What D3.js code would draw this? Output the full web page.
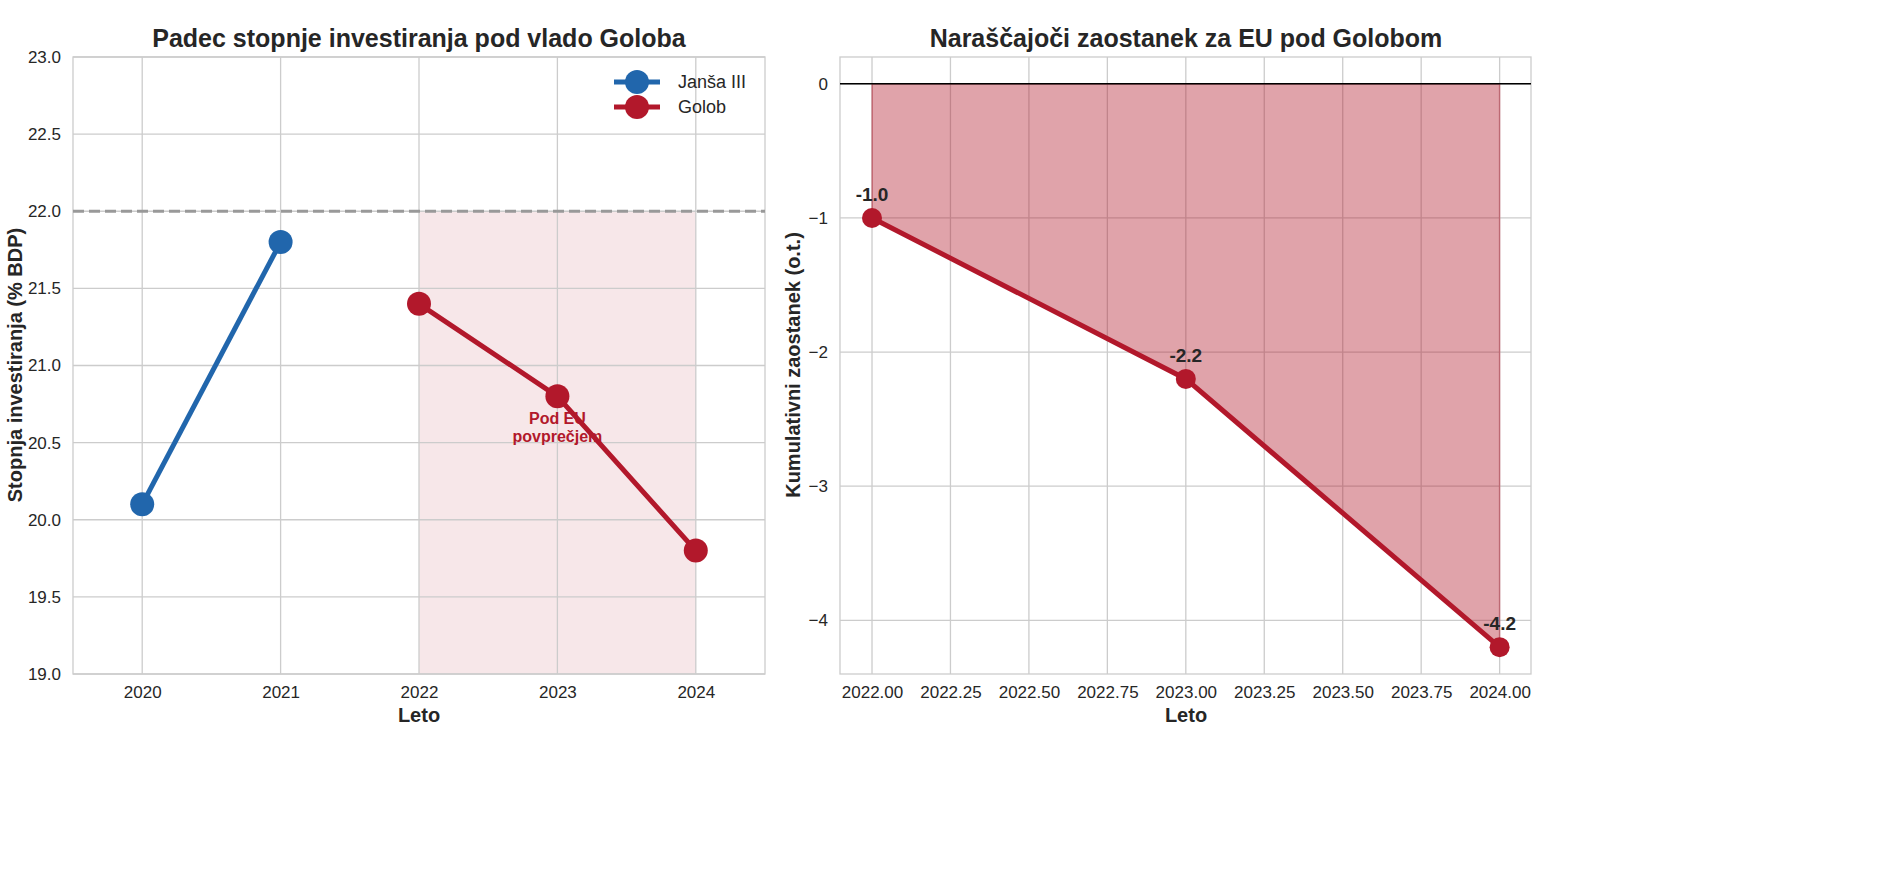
<!DOCTYPE html>
<html><head><meta charset="utf-8">
<script src="https://cdn.jsdelivr.net/npm/d3@7"></script>
<style>
body{margin:0;background:#fff;font-family:"Liberation Sans",Arial,sans-serif;}
.tick text{font-size:17px;fill:#262626;}
.tick line{stroke:#262626;}
</style></head><body>
<svg id="c" width="1891" height="887"></svg>
<script>
// data
var jansaYears = [2020, 2021], jansaVals = [20.1, 21.8];
var golobYears = [2022, 2023, 2024], golobVals = [21.4, 20.8, 19.8];
var euAverage = 22.0;
var gapYears = [2022, 2023, 2024], gapVals = [-1.0, -2.2, -4.2];
var leftYTicks = [19, 19.5, 20, 20.5, 21, 21.5, 22, 22.5, 23];
var leftXTicks = [2020, 2021, 2022, 2023, 2024];
var rightYTicks = [0, -1, -2, -3, -4];
var rightXTicks = [2022, 2022.25, 2022.5, 2022.75, 2023, 2023.25, 2023.5, 2023.75, 2024];

var blue = '#2166ac', red = '#b2182b';
var svg = d3.select('#c');

function frame(g, x, y, xt, yt, xfmt, yfmt){
	var w = x.range()[1]-x.range()[0], h = y.range()[0]-y.range()[1];
	g.append('g').selectAll('line').data(xt).join('line')
		.attr('x1', d => x(d)).attr('x2', d => x(d)).attr('y1', y.range()[1]).attr('y2', y.range()[0])
		.attr('stroke', '#cccccc').attr('stroke-width', 1.3);
	g.append('g').selectAll('line').data(yt).join('line')
		.attr('y1', d => y(d)).attr('y2', d => y(d)).attr('x1', x.range()[0]).attr('x2', x.range()[1])
		.attr('stroke', '#cccccc').attr('stroke-width', 1.3);
	var xa = g.append('g').attr('transform', 'translate(0,' + y.range()[0] + ')')
		.call(d3.axisBottom(x).tickValues(xt).tickFormat(xfmt).tickSize(0).tickPadding(12));
	var ya = g.append('g').attr('transform', 'translate(' + x.range()[0] + ',0)')
		.call(d3.axisLeft(y).tickValues(yt).tickFormat(yfmt).tickSize(0).tickPadding(12));
	xa.select('.domain').remove(); ya.select('.domain').remove();
	g.append('rect').attr('x', x.range()[0]).attr('y', y.range()[1]).attr('width', w).attr('height', h)
		.attr('fill', 'none').attr('stroke', '#cccccc').attr('stroke-width', 1.3);
}

// ---- left panel
var xL = d3.scaleLinear().domain([2019.5, 2024.5]).range([73, 765]);
var yL = d3.scaleLinear().domain([19, 23]).range([674, 57]);
var gL = svg.append('g');
gL.append('rect').attr('x', xL(2022)).attr('width', xL(2024)-xL(2022))
	.attr('y', yL(euAverage)).attr('height', yL(19)-yL(euAverage))
	.attr('fill', red).attr('fill-opacity', 0.1);
frame(gL, xL, yL, leftXTicks, leftYTicks, d3.format('d'), d3.format('.1f'));
gL.append('line').attr('x1', 73).attr('x2', 765).attr('y1', yL(euAverage)).attr('y2', yL(euAverage))
	.attr('stroke', '#999').attr('stroke-width', 3).attr('stroke-dasharray', '11,5');
var line = d3.line();
[[jansaYears, jansaVals, blue], [golobYears, golobVals, red]].forEach(function(s){
	var pts = s[0].map((d, i) => [xL(d), yL(s[1][i])]);
	gL.append('path').attr('d', line(pts)).attr('fill', 'none').attr('stroke', s[2]).attr('stroke-width', 5);
	gL.selectAll(null).data(pts).join('circle').attr('cx', d => d[0]).attr('cy', d => d[1]).attr('r', 12).attr('fill', s[2]);
});
gL.append('text').attr('x', xL(2023)).attr('y', yL(20.62)).attr('text-anchor', 'middle')
	.attr('fill', red).attr('font-size', 16).attr('font-weight', 'bold')
	.selectAll('tspan').data(['Pod EU', 'povprečjem']).join('tspan')
	.attr('x', xL(2023)).attr('dy', (d, i) => i ? 18 : 0).text(d => d);
// legend
[['Janša III', blue], ['Golob', red]].forEach(function(d, i){
	var y = 82 + i*25;
	gL.append('line').attr('x1', 614).attr('x2', 660).attr('y1', y).attr('y2', y).attr('stroke', d[1]).attr('stroke-width', 5);
	gL.append('circle').attr('cx', 637).attr('cy', y).attr('r', 12).attr('fill', d[1]);
	gL.append('text').attr('x', 678).attr('y', y + 6).attr('font-size', 18).attr('fill', '#262626').text(d[0]);
});
gL.append('text').attr('x', 419).attr('y', 47).attr('text-anchor', 'middle').attr('font-size', 25)
	.attr('font-weight', 'bold').attr('fill', '#262626').text('Padec stopnje investiranja pod vlado Goloba');
gL.append('text').attr('x', 419).attr('y', 722).attr('text-anchor', 'middle').attr('font-size', 20)
	.attr('font-weight', 'bold').attr('fill', '#262626').text('Leto');
gL.append('text').attr('transform', 'translate(22,' + 365 + ') rotate(-90)').attr('text-anchor', 'middle')
	.attr('font-size', 20).attr('font-weight', 'bold').attr('fill', '#262626').text('Stopnja investiranja (% BDP)');

// ---- right panel
var xR = d3.scaleLinear().domain([2021.898, 2024.1]).range([840, 1531]);
var yR = d3.scaleLinear().domain([-4.4, 0.2]).range([674, 57]);
var gR = svg.append('g');
frame(gR, xR, yR, rightXTicks, rightYTicks, d3.format('.2f'), d3.format('d'));
var pR = gapYears.map((d, i) => [xR(d), yR(gapVals[i])]);
gR.append('path').attr('d', d3.area().x(d => d[0]).y0(yR(0)).y1(d => d[1])(pR))
	.attr('fill', red).attr('fill-opacity', 0.4).attr('stroke', red).attr('stroke-opacity', 0.4).attr('stroke-width', 1.5);
gR.append('line').attr('x1', 840).attr('x2', 1531).attr('y1', yR(0)).attr('y2', yR(0)).attr('stroke', '#000').attr('stroke-width', 1.5);
gR.append('path').attr('d', line(pR)).attr('fill', 'none').attr('stroke', red).attr('stroke-width', 5);
gR.selectAll(null).data(pR).join('circle').attr('cx', d => d[0]).attr('cy', d => d[1]).attr('r', 10).attr('fill', red);
gR.selectAll(null).data(gapVals).join('text').attr('x', (d, i) => pR[i][0]).attr('y', (d, i) => pR[i][1] - 17)
	.attr('text-anchor', 'middle').attr('font-size', 19).attr('font-weight', 'bold').attr('fill', '#262626')
	.text(d => d.toFixed(1));
gR.append('text').attr('x', 1186).attr('y', 47).attr('text-anchor', 'middle').attr('font-size', 25)
	.attr('font-weight', 'bold').attr('fill', '#262626').text('Naraščajoči zaostanek za EU pod Golobom');
gR.append('text').attr('x', 1186).attr('y', 722).attr('text-anchor', 'middle').attr('font-size', 20)
	.attr('font-weight', 'bold').attr('fill', '#262626').text('Leto');
gR.append('text').attr('transform', 'translate(800,' + 365 + ') rotate(-90)').attr('text-anchor', 'middle')
	.attr('font-size', 20).attr('font-weight', 'bold').attr('fill', '#262626').text('Kumulativni zaostanek (o.t.)');
</script></body></html>
